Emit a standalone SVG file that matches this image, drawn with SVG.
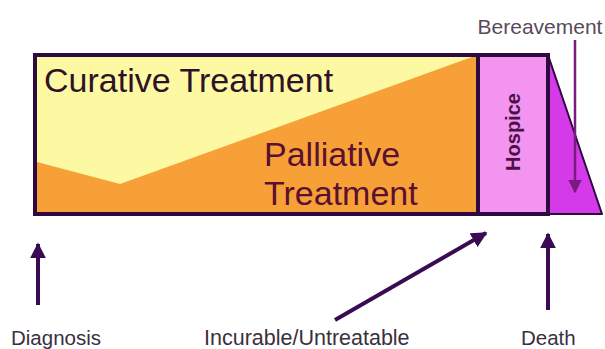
<svg xmlns="http://www.w3.org/2000/svg" width="605" height="349" viewBox="0 0 605 349">
<style>
.lbl{font-family:"Liberation Sans",Arial,sans-serif;fill:#3a3040}
.big{font-family:"Liberation Sans",Arial,sans-serif;font-size:34px}
.arr{stroke:#3a0a52;stroke-width:4;fill:none}
</style>
<defs>
<marker id="ah" viewBox="0 0 10 10" refX="9" refY="5" markerWidth="4" markerHeight="4" markerUnits="strokeWidth" orient="auto">
<path d="M0,0 L10,5 L0,10 Z" fill="#3a0a52"/>
</marker>
<marker id="ah2" viewBox="0 0 10 10" refX="9" refY="5" markerWidth="5.5" markerHeight="5.5" markerUnits="strokeWidth" orient="auto">
<path d="M0,0 L10,5 L0,10 Z" fill="#7a1a82"/>
</marker>
</defs>
<rect width="605" height="349" fill="#ffffff"/>
<g id="treatment">
<rect x="35" y="55" width="443" height="159" fill="#f8a038"/>
<polygon points="37,57 472,57 120,184 37,162" fill="#fcf9a2"/>
<text class="big" x="44" y="92" fill="#2e1228">Curative Treatment</text>
<text class="big" x="264" y="166" fill="#5a1030">Palliative</text>
<text class="big" x="264" y="205" fill="#5a1030">Treatment</text>
</g>
<g id="hospice">
<rect x="478" y="55" width="70" height="159" fill="#f294f0"/>
<text x="0" y="0" transform="translate(520,132) rotate(-90)" text-anchor="middle" font-family="Liberation Sans,Arial,sans-serif" font-weight="bold" font-size="20" fill="#4a1048">Hospice</text>
</g>
<g id="bereavement">
<polygon points="548,55 602,214 548,214" fill="#d43ae8" stroke="#2e0a40" stroke-width="2" stroke-linejoin="round"/>
<text class="lbl" x="540" y="34" text-anchor="middle" font-size="21" style="fill:#5a4a5c">Bereavement</text>
</g>
<g id="frame" fill="none" stroke="#2e0a40" stroke-width="4">
<rect x="35" y="55" width="513" height="159"/>
<line x1="478" y1="55" x2="478" y2="214"/>
</g>
<g id="connectors">
<line class="arr" x1="38" y1="305" x2="38" y2="244" marker-end="url(#ah)"/>
<line class="arr" x1="335" y1="320" x2="486" y2="233" marker-end="url(#ah)"/>
<line class="arr" x1="548" y1="310" x2="548" y2="234" marker-end="url(#ah)"/>
<line x1="575" y1="40" x2="575" y2="192" stroke="#7a1a82" stroke-width="2.5" marker-end="url(#ah2)"/>
</g>
<g id="diagnosis"><text class="lbl" x="11" y="345" font-size="20.5">Diagnosis</text></g>
<g id="incurable"><text class="lbl" x="204" y="345" font-size="21.5">Incurable/Untreatable</text></g>
<g id="death"><text class="lbl" x="521" y="345" font-size="20.5">Death</text></g>
</svg>
